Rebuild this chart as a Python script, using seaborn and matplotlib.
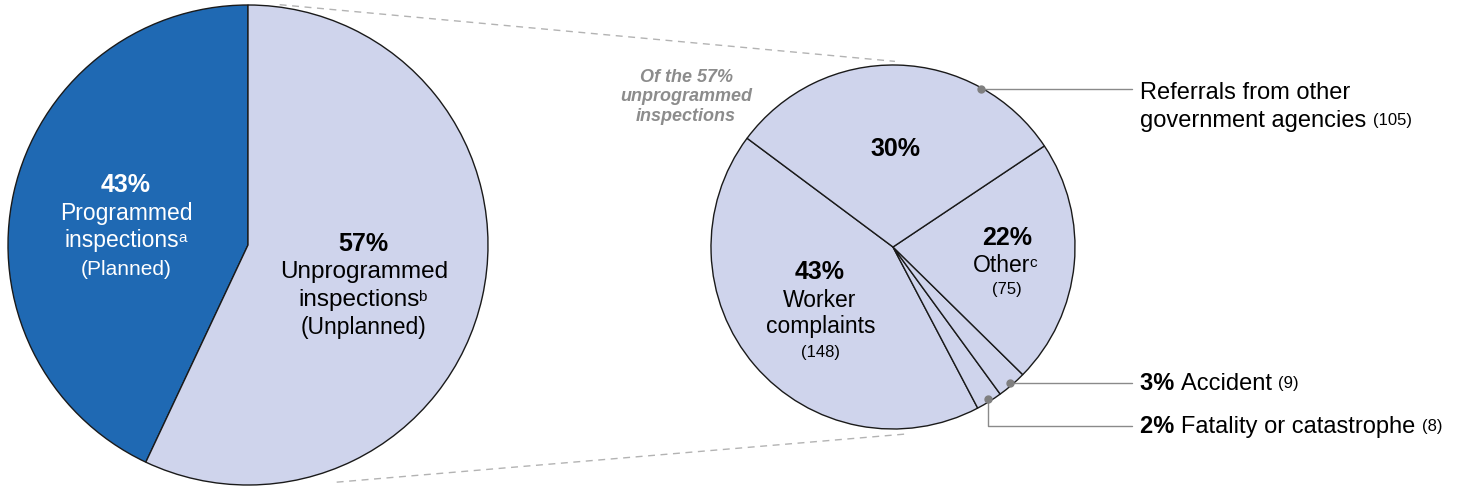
import numpy as np
import matplotlib
matplotlib.use("Agg")
import matplotlib.pyplot as plt
import seaborn as sns

# ---------------------------------------------------------
# DATA
# ---------------------------------------------------------
main_labels = ["Programmed inspections", "Unprogrammed inspections"]
main_pct = [43, 57]

sub_labels = ["Worker complaints", "Fatality or catastrophe", "Accident",
              "Other", "Referrals from other government agencies"]
sub_counts = [148, 8, 9, 75, 105]
sub_pct = [43, 2, 3, 22, 30]

# ---------------------------------------------------------
# STYLE
# ---------------------------------------------------------
sns.set_theme(style="white")
plt.rcParams["font.family"] = ["Liberation Sans", "DejaVu Sans"]
plt.rcParams["text.color"] = "black"

dark_blue = "#1f69b3"
light_blue = "#cfd4ec"
grey_line = "#8a8a8a"
grey_dash = "#b3b3b3"
grey_text = "#8c8c8c"

W, H = 1458, 489
fig = plt.figure(figsize=(W / 100, H / 100), dpi=100)
ax = fig.add_axes([0, 0, 1, 1])
ax.set_xlim(0, W)
ax.set_ylim(0, H)
ax.set_aspect("equal")
ax.axis("off")


def Y(y):
    # image row -> axis y
    return H - y


# pie geometry
c1, r1 = (248, Y(246)), 240
c2, r2 = (893, Y(248)), 182

w1, _ = ax.pie(main_pct, colors=[dark_blue, light_blue], startangle=90,
               counterclock=True, center=c1, radius=r1,
               wedgeprops=dict(edgecolor="#1a1a1a", linewidth=1.0))
w2, _ = ax.pie(sub_counts, colors=[light_blue] * 5, startangle=143.3,
               counterclock=True, center=c2, radius=r2,
               wedgeprops=dict(edgecolor="#1a1a1a", linewidth=1.0))
ax.set_xlim(0, W)
ax.set_ylim(0, H)


def on_circle(c, r, ang, f=1.0):
    a = np.deg2rad(ang)
    return c[0] + f * r * np.cos(a), c[1] + f * r * np.sin(a)


# dashed zoom lines
p1 = on_circle(c1, r1, 82.5, 1.01)
p2 = on_circle(c2, r2, 89.4, 1.02)
ax.plot([p1[0], p2[0]], [p1[1], p2[1]], ls=(0, (5, 4)), color=grey_dash, lw=1.0)
p3 = on_circle(c1, r1, -69.5, 1.055)
p4 = on_circle(c2, r2, -86, 1.03)
ax.plot([p3[0], p4[0]], [p3[1], p4[1]], ls=(0, (5, 4)), color=grey_dash, lw=1.0)


def sup(t, s, size=11, color="black"):
    ax.annotate(s, xy=(1.0, 0.95), xycoords=t, xytext=(-1, 0),
                textcoords="offset points", ha="left", va="top",
                fontsize=size, color=color)


# left pie text
ax.text(126, Y(185), f"{main_pct[0]}%", ha="center", va="center",
        fontsize=18, fontweight="bold", color="white")
ax.text(126, Y(214), "Programmed", ha="center", va="center", fontsize=16.5, color="white")
t = ax.text(122, Y(241), "inspections", ha="center", va="center", fontsize=16.5, color="white")
sup(t, "a", color="white")
ax.text(126, Y(270), "(Planned)", ha="center", va="center", fontsize=15, color="white")

ax.text(363, Y(244), f"{main_pct[1]}%", ha="center", va="center",
        fontsize=18, fontweight="bold")
ax.text(364, Y(272), "Unprogrammed", ha="center", va="center", fontsize=17.5)
t = ax.text(359, Y(300), "inspections", ha="center", va="center", fontsize=17.5)
sup(t, "b")
ax.text(364, Y(328), "(Unplanned)", ha="center", va="center", fontsize=16.5)

# right pie text
ax.text(895, Y(149), f"{sub_pct[4]}%", ha="center", va="center",
        fontsize=18, fontweight="bold")
ax.text(1007, Y(238), f"{sub_pct[3]}%", ha="center", va="center",
        fontsize=18, fontweight="bold")
t = ax.text(1002, Y(266), "Other", ha="center", va="center", fontsize=16.5)
sup(t, "c")
ax.text(1007, Y(290), f"({sub_counts[3]})", ha="center", va="center", fontsize=12)

ax.text(820, Y(272), f"{sub_pct[0]}%", ha="center", va="center",
        fontsize=18, fontweight="bold")
ax.text(820, Y(301), "Worker", ha="center", va="center", fontsize=16.5)
ax.text(821, Y(327), "complaints", ha="center", va="center", fontsize=16.5)
ax.text(821, Y(353), f"({sub_counts[0]})", ha="center", va="center", fontsize=12)

ax.text(686, Y(97), "Of the 57%\nunprogrammed\ninspections", ha="center", va="center",
        fontsize=13, fontweight="bold", fontstyle="italic", color=grey_text,
        linespacing=1.2)

# callouts
label_x = 1140
line_end = 1132

# referrals
dx, dy = on_circle(c2, r2, 61, 0.995)
ax.plot([dx, line_end], [dy, dy], color=grey_line, lw=1.0)
ax.plot(dx, dy, "o", color="#7f7f7f", ms=5)
ax.text(label_x, dy - 3, "Referrals from other", ha="left", va="center", fontsize=17)
t = ax.text(label_x, dy - 31, "government agencies ", ha="left", va="center", fontsize=17)
ax.annotate(f"({sub_counts[4]})", xy=(1.0, 0.5), xycoords=t, ha="left", va="center",
            fontsize=12)

# accident
th = 0.5 * (w2[2].theta1 + w2[2].theta2)
dx, dy = on_circle(c2, r2, th, 0.985)
ax.plot([dx, line_end], [dy, dy], color=grey_line, lw=1.0)
ax.plot(dx, dy, "o", color="#7f7f7f", ms=5)
t = ax.text(label_x, dy, f"{sub_pct[2]}% ", ha="left", va="center", fontsize=17,
            fontweight="bold")
t = ax.annotate(sub_labels[2] + " ", xy=(1.0, 0.5), xycoords=t, ha="left", va="center",
                fontsize=17)
ax.annotate(f"({sub_counts[2]})", xy=(1.0, 0.5), xycoords=t, ha="left", va="center",
            fontsize=12)

# fatality
th = 0.5 * (w2[1].theta1 + w2[1].theta2)
dx, dy = on_circle(c2, r2, th, 0.985)
ly = Y(427)
ax.plot([dx, dx, line_end], [dy, ly, ly], color=grey_line, lw=1.0)
ax.plot(dx, dy, "o", color="#7f7f7f", ms=5)
t = ax.text(label_x, ly, f"{sub_pct[1]}% ", ha="left", va="center", fontsize=17,
            fontweight="bold")
t = ax.annotate(sub_labels[1] + " ", xy=(1.0, 0.5), xycoords=t, ha="left", va="center",
                fontsize=17)
ax.annotate(f"({sub_counts[1]})", xy=(1.0, 0.5), xycoords=t, ha="left", va="center",
            fontsize=12)

fig.savefig("out.png", dpi=100)
